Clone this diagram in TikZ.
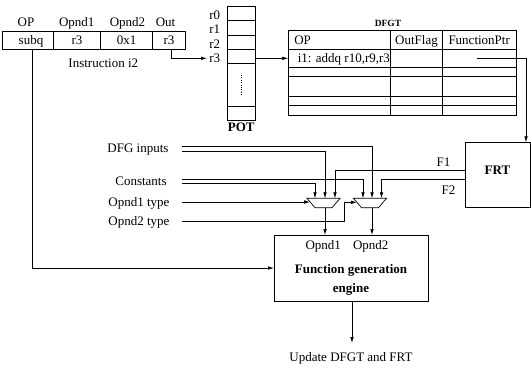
\documentclass[tikz,border=0pt]{standalone}
\usepackage{fontspec}
\setmainfont{Liberation Serif}
\usetikzlibrary{arrows.meta}
\begin{document}
\begin{tikzpicture}[x=1pt,y=-1pt,line width=0.7pt,
  txt/.style={font=\fontsize{13}{15}\selectfont,inner sep=0pt,text height=8.6pt,text depth=0pt},
  btxt/.style={font=\fontsize{13}{15}\selectfont\bfseries,inner sep=0pt,text height=8.6pt,text depth=0pt},
  stxt/.style={font=\fontsize{9.5}{11}\selectfont\bfseries,inner sep=0pt,text height=6.3pt,text depth=0pt},
  arr/.style={-{Latex[length=6pt,width=3.6pt]}},
  box/.style={draw,inner sep=0pt,anchor=north west},
  mux/.style={draw,line join=miter}]
\useasboundingbox (0,0) rectangle (531,373);

% ---------- Instruction i2 ----------
\draw (2.7,31) rectangle (185,49);
\draw (53.3,31) -- (53.3,49) (100,31) -- (100,49) (152.7,31) -- (152.7,49);
\node[txt] (hop) at (26,21.7) {OP};
\node[txt] (hop1) at (76.7,21.7) {Opnd1};
\node[txt] (hop2) at (127.5,21.7) {Opnd2};
\node[txt] (hout) at (165.5,21.7) {Out};
\node[txt] (csubq) at (31,40) {subq};
\node[txt] (cr3a) at (77,40) {r3};
\node[txt] (c0x1) at (126.5,40) {0x1};
\node[txt] (cr3b) at (169,40) {r3};
\node[txt] (instr) at (103.3,63) {Instruction i2};
\coordinate (subqb) at (32.3,49);
\coordinate (outb) at (171.7,49);

% ---------- POT ----------
\draw (227.3,6.7) rectangle (255,120);
\foreach \yy in {20.7,35,49.3,63.3,106} \draw (227.3,\yy) -- (255,\yy);
\draw[line width=0.6pt,dash pattern=on 0.8pt off 1.6pt] (241.5,75) -- (241.5,95);
\node[txt] (r0) at (214.7,15) {r0};
\node[txt] (r1) at (214.7,29.3) {r1};
\node[txt] (r2) at (214.7,44) {r2};
\node[txt] (r3) at (214.7,58.3) {r3};
\node[btxt] (pot) at (241.2,127) {POT};
\coordinate (r3in) at (207,58.3);
\coordinate (potout) at (255,58.3);

% ---------- DFGT ----------
\node[stxt] (dfgtt) at (388,23.3) {DFGT};
\draw (288.3,30) rectangle (516,115);
\draw (390.7,30) -- (390.7,115) (442.3,30) -- (442.3,115);
\foreach \yy in {49.3,67.7,76.7,96,105} \draw (288.3,\yy) -- (516,\yy);
\node[txt,anchor=west] (dop) at (294,40) {OP};
\node[txt] (dout) at (416.5,40) {OutFlag};
\node[txt] (dfp) at (479.2,40) {FunctionPtr};
\node[txt,anchor=west] (drow) at (297.5,58.5) {i1: addq r10,r9,r3};
\coordinate (dfgtin) at (288.3,58.3);
\coordinate (fptr) at (476.7,58.3);

% ---------- FRT ----------
\node[box,minimum width=65pt,minimum height=65pt] (frt) at (465,142.3) {};
\node[btxt] (frtl) at (497.5,170) {FRT};
\coordinate (frtin) at (526,142.3);
\coordinate (f1s) at (465,170);
\coordinate (f2s) at (465,179.5);
\node[txt] (f1l) at (443.5,161.7) {F1};
\node[txt] (f2l) at (448.5,190) {F2};

% ---------- left inputs ----------
\node[txt] (ldfg) at (138,148.5) {DFG inputs};
\node[txt] (lcon) at (141,181) {Constants};
\node[txt] (lo1) at (139,202) {Opnd1 type};
\node[txt] (lo2) at (139,221.5) {Opnd2 type};
\coordinate (dfgA) at (181.7,146.7);
\coordinate (dfgB) at (181.7,151.3);
\coordinate (conA) at (181.7,179.3);
\coordinate (conB) at (181.7,183.3);
\coordinate (o1s) at (181.7,202);
\coordinate (o2s) at (181.7,221.7);

% ---------- muxes ----------
\draw[mux] (307,198.3) -- (340,198.3) -- (332,207.7) -- (315,207.7) -- cycle;
\draw[mux] (353.5,198.3) -- (386.5,198.3) -- (378.5,207.7) -- (361.5,207.7) -- cycle;
\coordinate (m1a) at (315,198.3);
\coordinate (m1b) at (325,198.3);
\coordinate (m1c) at (335,198.3);
\coordinate (m1s) at (310.1,202);
\coordinate (m1o) at (325,207.7);
\coordinate (m2a) at (363,198.3);
\coordinate (m2b) at (372,198.3);
\coordinate (m2c) at (381.5,198.3);
\coordinate (m2s) at (356.9,202.3);
\coordinate (m2o) at (372,207.7);

% ---------- function generation engine ----------
\node[box,minimum width=154pt,minimum height=66pt] (fge) at (274,235) {};
\node[txt] (fo1) at (323.3,245) {Opnd1};
\node[txt] (fo2) at (370.7,245) {Opnd2};
\node[btxt] (fg1) at (351,269.3) {Function generation};
\node[btxt] (fg2) at (351,288.3) {engine};
\node[txt] (upd) at (351,356.7) {Update DFGT and FRT};
\coordinate (updt) at (352,343);

% ---------- connectors ----------
\draw[arr] (outb) |- (r3in);
\draw[arr] (potout) -- (dfgtin);
\draw[arr] (fptr) -| (frtin);
\draw[arr] (f1s) -| (m1c);
\draw[arr] (f2s) -| (m2c);
\draw[arr] (dfgA) -| (m2b);
\draw[arr] (dfgB) -| (m1b);
\draw[arr] (conA) -| (m2a);
\draw[arr] (conB) -| (m1a);
\draw[arr] (o1s) -- (m1s);
\draw[arr] (o2s) -| (344.3,202.3) -- (m2s);
\draw[arr] (m1o) -- (m1o |- fge.north);
\draw[arr] (m2o) -- (m2o |- fge.north);
\draw[arr] (subqb) |- (fge.west |- 0,268);
\draw[arr] (fge.south -| updt) -- (updt);
\end{tikzpicture}
\end{document}
